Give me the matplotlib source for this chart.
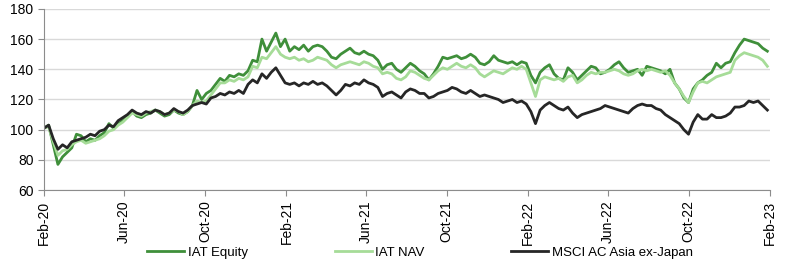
import numpy as np
import pandas as pd
import matplotlib
matplotlib.use("Agg")
import matplotlib.pyplot as plt
import matplotlib.dates as mdates

plt.rcParams['font.family'] = ['Liberation Sans', 'DejaVu Sans']
plt.rcParams['font.size'] = 10

# weekly observations, rebased to 100 at start
dates = pd.date_range('2020-02-01', periods=157, freq='7D')

iat_equity = [
    101, 103, 90, 77, 82, 85, 88, 97, 96, 92, 94, 93, 96, 98, 104, 101, 104, 106, 109, 112,
    109, 108, 110, 111, 113, 111, 109, 110, 113, 111, 110, 112, 116, 126, 120, 124, 126, 130, 134, 132,
    136, 135, 137, 136, 139, 146, 145, 160, 152, 158, 164, 155, 160, 152, 155, 153, 156, 152, 155, 156,
    155, 152, 148, 147, 150, 152, 154, 151, 150, 152, 150, 149, 146, 140, 143, 144, 140, 138, 141, 144,
    142, 139, 137, 133, 137, 142, 148, 147, 148, 149, 147, 148, 150, 148, 144, 143, 145, 149, 146, 145,
    144, 145, 143, 145, 144, 136, 131, 138, 141, 143, 137, 134, 133, 141, 138, 133, 136, 139, 142, 141,
    137, 138, 140, 143, 145, 141, 138, 139, 140, 136, 142, 141, 140, 139, 137, 140, 131, 127, 121, 118,
    127, 131, 133, 136, 138, 144, 141, 144, 145, 151, 156, 160, 159, 158, 157, 154, 152,
]

iat_nav = [
    101, 102, 92, 83, 86, 87, 90, 92, 93, 91, 92, 93, 94, 96, 99, 100, 103, 105, 108, 111,
    110, 109, 111, 112, 113, 112, 110, 111, 113, 112, 110, 112, 116, 119, 118, 119, 123, 127, 131, 131,
    133, 132, 134, 133, 135, 142, 141, 148, 147, 151, 155, 150, 148, 147, 148, 146, 147, 145, 146, 148,
    147, 146, 143, 141, 143, 144, 145, 144, 143, 145, 144, 142, 141, 137, 138, 137, 134, 133, 135, 139,
    138, 136, 134, 133, 136, 139, 141, 140, 142, 144, 142, 141, 143, 141, 137, 135, 137, 139, 138, 137,
    139, 141, 140, 142, 140, 131, 122, 133, 135, 134, 133, 134, 132, 135, 136, 131, 133, 136, 138, 137,
    138, 138, 139, 140, 139, 137, 136, 137, 139, 140, 139, 140, 139, 138, 139, 136, 131, 127, 122, 118,
    125, 131, 132, 131, 133, 135, 136, 137, 138, 146, 149, 151, 150, 149, 148, 146, 142,
]

msci_asia = [
    101, 103, 94, 87, 90, 88, 92, 93, 94, 95, 97, 96, 99, 100, 103, 102, 106, 108, 110, 113,
    111, 110, 112, 111, 113, 112, 110, 111, 114, 112, 111, 113, 116, 117, 118, 117, 121, 122, 124, 123,
    125, 124, 126, 124, 130, 133, 131, 137, 134, 138, 141, 136, 131, 130, 131, 129, 131, 130, 132, 130,
    131, 129, 126, 123, 126, 130, 129, 131, 130, 133, 131, 130, 128, 122, 124, 125, 123, 121, 125, 127,
    126, 124, 124, 121, 122, 124, 125, 126, 128, 127, 125, 124, 126, 124, 122, 123, 122, 121, 120, 118,
    119, 120, 118, 119, 117, 112, 104, 113, 116, 118, 116, 114, 113, 115, 111, 108, 110, 111, 112, 113,
    114, 116, 115, 114, 113, 112, 111, 114, 116, 117, 116, 116, 114, 113, 110, 108, 106, 104, 100, 97,
    105, 110, 107, 107, 110, 108, 108, 109, 111, 115, 115, 116, 119, 118, 119, 116, 113,
]

series = [
    ('IAT Equity', iat_equity, '#3f8f3a'),
    ('IAT NAV', iat_nav, '#a6dc98'),
    ('MSCI AC Asia ex-Japan', msci_asia, '#262626'),
]

fig = plt.figure(figsize=(8, 2.7), dpi=100)
ax = fig.add_axes([0.055, 0.296, 0.9075, 0.671])

for name, vals, col in series:
    ax.plot(dates, vals, color=col, lw=2, label=name)

ax.set_ylim(60, 180)
ax.set_yticks(np.arange(60, 181, 20))
ax.set_xlim(pd.Timestamp('2020-02-01'), pd.Timestamp('2023-02-01'))
ax.xaxis.set_major_locator(mdates.MonthLocator(bymonth=[2, 6, 10]))
ax.xaxis.set_major_formatter(mdates.DateFormatter('%b-%y'))
plt.setp(ax.get_xticklabels(), rotation=90)

ax.grid(axis='y', color='#d9d9d9', lw=1)
ax.set_axisbelow(True)
for s in ['top', 'right']:
    ax.spines[s].set_visible(False)
for s in ['left', 'bottom']:
    ax.spines[s].set_color('#8c8c8c')
ax.tick_params(axis='both', colors='#8c8c8c', labelcolor='black', length=4, direction='out')

fig.legend(loc='center', bbox_to_anchor=(0.525, 0.063), ncol=3, frameon=False,
           handlelength=2.8, handletextpad=0.25, columnspacing=6.6, fontsize=9.5)

fig.savefig('out.png', dpi=100)
